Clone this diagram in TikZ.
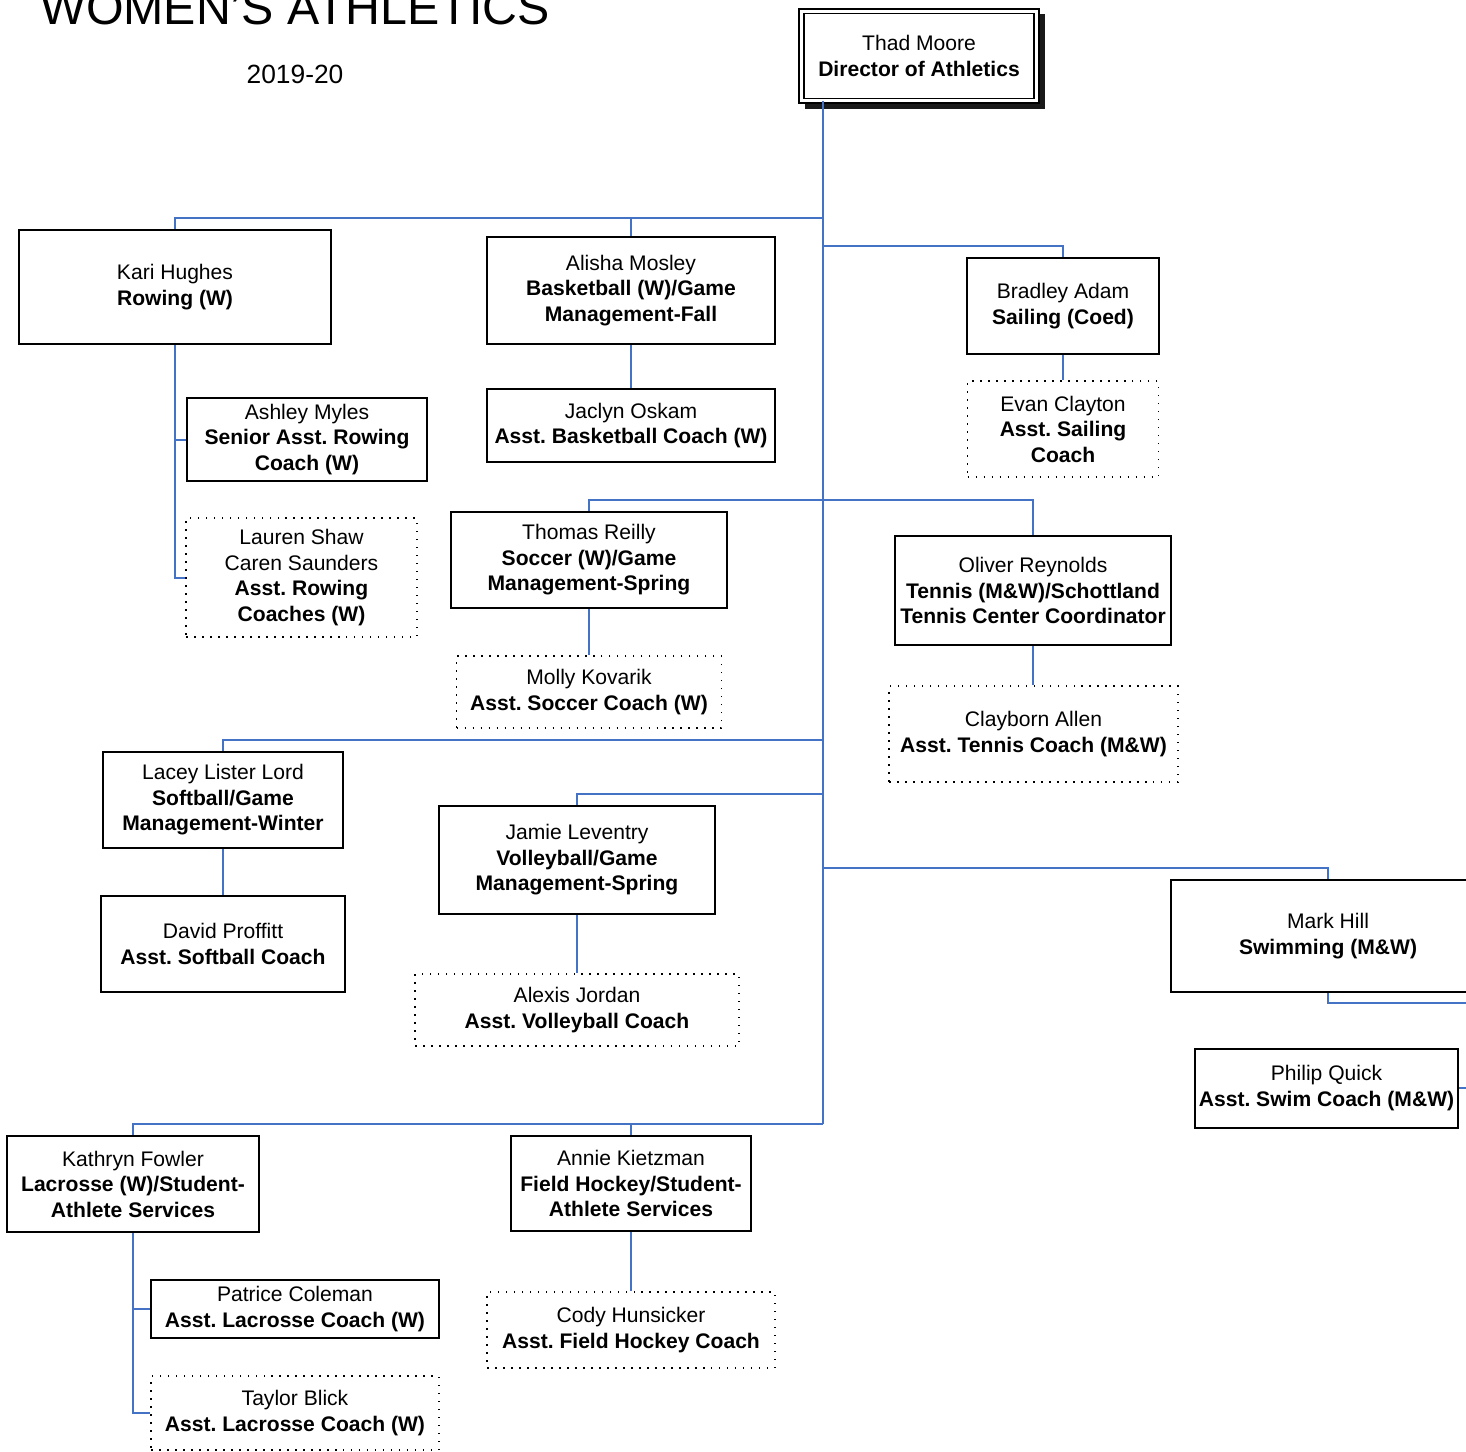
\documentclass[tikz,border=0pt]{standalone}
\usepackage{fontspec}
\setmainfont{Liberation Sans}
\usetikzlibrary{positioning}
\frenchspacing

\begin{document}
\begin{tikzpicture}[x=0.02cm,y=-0.02cm,
  box/.style={draw,line width=0.04cm,fill=white,inner sep=0pt,align=center,font=\fontsize{12}{14.5}\selectfont},
  dotbox/.style={box,line width=0.035cm,dash pattern=on 0.03cm off 0.13cm},
  link/.style={line width=0.04cm,color=linkblue}]

\definecolor{linkblue}{HTML}{4472C4}

\useasboundingbox (0,0) rectangle (1466,1451);
\clip (0,0) rectangle (1466,1451);

\node[anchor=base,font=\fontsize{27.5}{30}\selectfont] (title) at (295,24) {WOMEN'S ATHLETICS};
\node[anchor=base,font=\fontsize{15}{18}\selectfont] (year) at (295,83) {2019-20};

% director with shadow
\fill[black!90] (805,14) rectangle (1045,109);
\node[box,line width=0.028cm,double=white,double distance=0.07cm,minimum width=4.7cm,minimum height=1.79cm] (thad) at (919,56) {Thad Moore\\\textbf{Director of Athletics}};

\node[box,minimum width=6.24cm,minimum height=2.28cm] (kari) at (175,287) {Kari Hughes\\\textbf{Rowing (W)}};
\node[box,minimum width=5.76cm,minimum height=2.14cm] (alisha) at (631,290.5) {Alisha Mosley\\\textbf{Basketball (W)/Game}\\\textbf{Management-Fall}};
\node[box,minimum width=3.84cm,minimum height=1.92cm] (bradley) at (1063,306) {Bradley Adam\\\textbf{Sailing (Coed)}};
\node[box,minimum width=4.8cm,minimum height=1.66cm] (ashley) at (307,439.5) {Ashley Myles\\\textbf{Senior Asst. Rowing}\\\textbf{Coach (W)}};
\node[dotbox,minimum width=4.62cm,minimum height=2.38cm] (lauren) at (301.5,577.5) {Lauren Shaw\\Caren Saunders\\\textbf{Asst. Rowing}\\\textbf{Coaches (W)}};
\node[box,minimum width=5.76cm,minimum height=1.46cm] (jaclyn) at (631,425.5) {Jaclyn Oskam\\\textbf{Asst. Basketball Coach (W)}};
\node[dotbox,minimum width=3.82cm,minimum height=1.92cm] (evan) at (1063,429) {Evan Clayton\\\textbf{Asst. Sailing}\\\textbf{Coach}};
\node[box,minimum width=5.52cm,minimum height=1.92cm] (thomas) at (589,560) {Thomas Reilly\\\textbf{Soccer (W)/Game}\\\textbf{Management-Spring}};
\node[box,minimum width=5.52cm,minimum height=2.18cm] (oliver) at (1033,590.5) {Oliver Reynolds\\\textbf{Tennis (M\&W)/Schottland}\\\textbf{Tennis Center Coordinator}};
\node[dotbox,minimum width=5.3cm,minimum height=1.44cm] (molly) at (589,692) {Molly Kovarik\\\textbf{Asst. Soccer Coach (W)}};
\node[dotbox,minimum width=5.78cm,minimum height=1.92cm] (clayborn) at (1033.5,734) {Clayborn Allen\\\textbf{Asst. Tennis Coach (M\&W)}};
\node[box,minimum width=4.8cm,minimum height=1.92cm] (lacey) at (223,800) {Lacey Lister Lord\\\textbf{Softball/Game}\\\textbf{Management-Winter}};
\node[box,minimum width=5.52cm,minimum height=2.16cm] (jamie) at (577,860) {Jamie Leventry\\\textbf{Volleyball/Game}\\\textbf{Management-Spring}};
\node[box,minimum width=4.9cm,minimum height=1.92cm] (david) at (223,944) {David Proffitt\\\textbf{Asst. Softball Coach}};
\node[dotbox,minimum width=6.48cm,minimum height=1.44cm] (alexis) at (577,1010) {Alexis Jordan\\\textbf{Asst. Volleyball Coach}};
\node[box,minimum width=6.28cm,minimum height=2.24cm] (mark) at (1328,936) {Mark Hill\\\textbf{Swimming (M\&W)}};
\node[box,minimum width=5.26cm,minimum height=1.58cm] (philip) at (1326.5,1088) {Philip Quick\\\textbf{Asst. Swim Coach (M\&W)}};
\node[box,minimum width=5.04cm,minimum height=1.92cm] (kathryn) at (133,1184) {Kathryn Fowler\\\textbf{Lacrosse (W)/Student-}\\\textbf{Athlete Services}};
\node[box,minimum width=4.8cm,minimum height=1.9cm] (annie) at (631,1183.5) {Annie Kietzman\\\textbf{Field Hockey/Student-}\\\textbf{Athlete Services}};
\node[box,minimum width=5.76cm,minimum height=1.16cm] (patrice) at (295,1309) {Patrice Coleman\\\textbf{Asst. Lacrosse Coach (W)}};
\node[dotbox,minimum width=5.76cm,minimum height=1.48cm] (taylor) at (295,1413) {Taylor Blick\\\textbf{Asst. Lacrosse Coach (W)}};
\node[dotbox,minimum width=5.76cm,minimum height=1.52cm] (cody) at (631,1330) {Cody Hunsicker\\\textbf{Asst. Field Hockey Coach}};

% trunk joints
\coordinate (j1) at (823,218);
\coordinate (j2) at (823,246);
\coordinate (j3) at (823,500);
\coordinate (j4) at (823,740);
\coordinate (j5) at (823,794);
\coordinate (j6) at (823,868);
\coordinate (j7) at (823,1124);

\draw[link] (thad.south -| j1) -- (j7);
\draw[link] (kari.north) |- (j1);
\draw[link] (alisha.north) -- (alisha.north |- j1);
\draw[link] (j2) -| (bradley.north);
\draw[link] (thomas.north) |- (j3) -| (oliver.north);
\draw[link] (lacey.north) |- (j4);
\draw[link] (jamie.north) |- (j5);
\draw[link] (j6) -| (mark.north);
\draw[link] (kathryn.north) |- (j7);
\draw[link] (annie.north) -- (annie.north |- j7);

\draw[link] (kari.south) |- (ashley.west);
\draw[link] (kari.south) |- (lauren.west);
\draw[link] (alisha) -- (jaclyn);
\draw[link] (bradley) -- (evan);
\draw[link] (thomas) -- (molly);
\draw[link] (oliver.south) -- (oliver.south |- clayborn.north);
\draw[link] (lacey) -- (david);
\draw[link] (jamie) -- (alexis);
\draw[link] (mark.south) |- (1500,1003) |- (philip.east);
\draw[link] (kathryn.south) |- (patrice.west);
\draw[link] (kathryn.south) |- (taylor.west);
\draw[link] (annie) -- (cody);

\end{tikzpicture}
\end{document}
